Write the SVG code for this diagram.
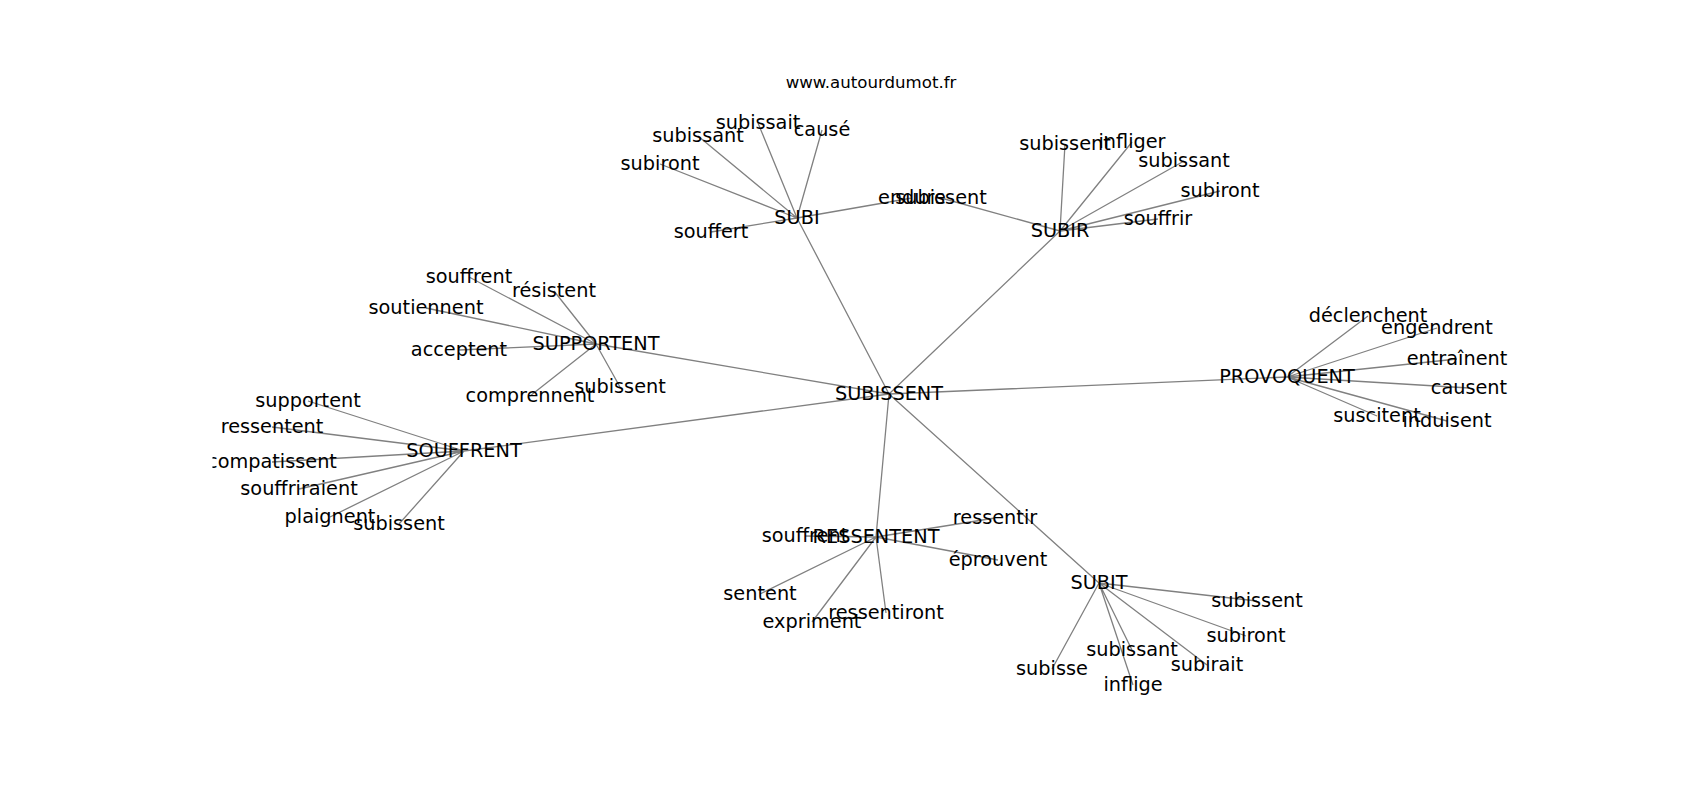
<svg xmlns="http://www.w3.org/2000/svg" width="1700" height="800" viewBox="0 0 1700 800">
<style>
.e{stroke:#808080;stroke-width:1.3;fill:none}
.l{font-family:"DejaVu Sans",sans-serif;font-size:19.3px;fill:#000;text-anchor:middle}
.t{font-family:"DejaVu Sans",sans-serif;font-size:16.6px;fill:#000;text-anchor:middle}
</style>
<defs><clipPath id="ax"><rect x="212.5" y="96" width="1317.5" height="608"/></clipPath></defs>
<rect width="1700" height="800" fill="#fff"/>
<text class="t" x="871" y="88">www.autourdumot.fr</text>
<g id="edges">
<path class="e" d="M889 394L797 218M889 394L1060 231M889 394L596 344M889 394L464 451M889 394L1287 377M889 394L876 537M889 394L1099 583"/>
<path class="e" d="M797 218L660 164M797 218L698 136M797 218L758 123M797 218L822 130M797 218L711 232M797 218L912 198"/>
<path class="e" d="M1060 231L1065 144M1060 231L1132 142M1060 231L1184 161M1060 231L1220 191M1060 231L1158 219M1060 231L941 198"/>
<path class="e" d="M596 344L469 277M596 344L554 291M596 344L426 308M596 344L459 350M596 344L530 396M596 344L620 387"/>
<path class="e" d="M464 451L308 401M464 451L272 427M464 451L272 462M464 451L299 489M464 451L330 517M464 451L399 524"/>
<path class="e" d="M1287 377L1368 316M1287 377L1437 328M1287 377L1457 359M1287 377L1469 388M1287 377L1377 416M1287 377L1447 421"/>
<path class="e" d="M876 537L805 536M876 537L995 518M876 537L998 560M876 537L760 594M876 537L812 622M876 537L886 613"/>
<path class="e" d="M1099 583L1257 601M1099 583L1246 636M1099 583L1207 665M1099 583L1132 650M1099 583L1133 685M1099 583L1052 669"/>
</g>
<g id="nodes" clip-path="url(#ax)">
<g id="n-subissent"><text class="l" x="889" y="400">SUBISSENT</text></g>
<g id="n-subi"><text class="l" x="797" y="224">SUBI</text></g>
<g id="n-subir"><text class="l" x="1060" y="237">SUBIR</text></g>
<g id="n-supportent"><text class="l" x="596" y="350">SUPPORTENT</text></g>
<g id="n-souffrent"><text class="l" x="464" y="457">SOUFFRENT</text></g>
<g id="n-provoquent"><text class="l" x="1287" y="383">PROVOQUENT</text></g>
<g id="n-ressentent"><text class="l" x="876" y="543">RESSENTENT</text></g>
<g id="n-subit"><text class="l" x="1099" y="589">SUBIT</text></g>

<g id="n-subi-subiront"><text class="l" x="660" y="170">subiront</text></g>
<g id="n-subi-subissant"><text class="l" x="698" y="142">subissant</text></g>
<g id="n-subi-subissait"><text class="l" x="758" y="129">subissait</text></g>
<g id="n-subi-cause"><text class="l" x="822" y="136">causé</text></g>
<g id="n-subi-souffert"><text class="l" x="711" y="238">souffert</text></g>
<g id="n-subi-endure"><text class="l" x="912" y="204">endure</text></g>

<g id="n-subir-subissent"><text class="l" x="1065" y="150">subissent</text></g>
<g id="n-subir-infliger"><text class="l" x="1132" y="148">infliger</text></g>
<g id="n-subir-subissant"><text class="l" x="1184" y="167">subissant</text></g>
<g id="n-subir-subiront"><text class="l" x="1220" y="197">subiront</text></g>
<g id="n-subir-souffrir"><text class="l" x="1158" y="225">souffrir</text></g>
<g id="n-subir-subissent2"><text class="l" x="941" y="204">subissent</text></g>

<g id="n-sup-souffrent"><text class="l" x="469" y="283">souffrent</text></g>
<g id="n-sup-resistent"><text class="l" x="554" y="297">résistent</text></g>
<g id="n-sup-soutiennent"><text class="l" x="426" y="314">soutiennent</text></g>
<g id="n-sup-acceptent"><text class="l" x="459" y="356">acceptent</text></g>
<g id="n-sup-comprennent"><text class="l" x="530" y="402">comprennent</text></g>
<g id="n-sup-subissent"><text class="l" x="620" y="393">subissent</text></g>

<g id="n-souf-supportent"><text class="l" x="308" y="407">supportent</text></g>
<g id="n-souf-ressentent"><text class="l" x="272" y="433">ressentent</text></g>
<g id="n-souf-compatissent"><text class="l" x="272" y="468">compatissent</text></g>
<g id="n-souf-souffriraient"><text class="l" x="299" y="495">souffriraient</text></g>
<g id="n-souf-plaignent"><text class="l" x="330" y="523">plaignent</text></g>
<g id="n-souf-subissent"><text class="l" x="399" y="530">subissent</text></g>

<g id="n-prov-declenchent"><text class="l" x="1368" y="322">déclenchent</text></g>
<g id="n-prov-engendrent"><text class="l" x="1437" y="334">engendrent</text></g>
<g id="n-prov-entrainent"><text class="l" x="1457" y="365">entraînent</text></g>
<g id="n-prov-causent"><text class="l" x="1469" y="394">causent</text></g>
<g id="n-prov-suscitent"><text class="l" x="1377" y="422">suscitent</text></g>
<g id="n-prov-induisent"><text class="l" x="1447" y="427">induisent</text></g>

<g id="n-res-souffrent"><text class="l" x="805" y="542">souffrent</text></g>
<g id="n-res-ressentir"><text class="l" x="995" y="524">ressentir</text></g>
<g id="n-res-eprouvent"><text class="l" x="998" y="566">éprouvent</text></g>
<g id="n-res-sentent"><text class="l" x="760" y="600">sentent</text></g>
<g id="n-res-expriment"><text class="l" x="812" y="628">expriment</text></g>
<g id="n-res-ressentiront"><text class="l" x="886" y="619">ressentiront</text></g>

<g id="n-subit-subissent"><text class="l" x="1257" y="607">subissent</text></g>
<g id="n-subit-subiront"><text class="l" x="1246" y="642">subiront</text></g>
<g id="n-subit-subirait"><text class="l" x="1207" y="671">subirait</text></g>
<g id="n-subit-subissant"><text class="l" x="1132" y="656">subissant</text></g>
<g id="n-subit-inflige"><text class="l" x="1133" y="691">inflige</text></g>
<g id="n-subit-subisse"><text class="l" x="1052" y="675">subisse</text></g>
</g>
</svg>
